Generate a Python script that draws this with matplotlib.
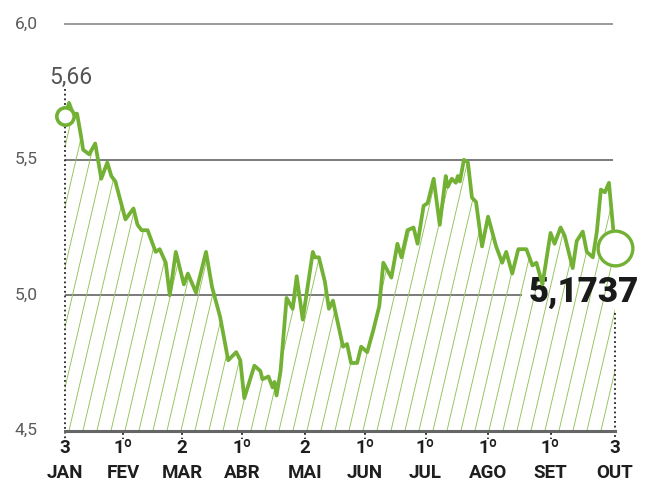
import matplotlib
matplotlib.use('Agg')
import matplotlib.pyplot as plt
import matplotlib.dates as mdates
from matplotlib.collections import LineCollection
from matplotlib import font_manager
import numpy as np
import pandas as pd

# ---------------- data ----------------
start_date = '2022-01-03'
day_offsets = [0, 2, 4, 6, 8, 9, 12, 15, 18, 21, 23, 25, 30, 34, 36, 38, 41, 45, 47, 50,
               52, 55, 59, 61, 65, 70, 73, 77, 79, 81, 85, 87, 89, 94, 97, 98, 101, 103, 104, 105,
               107, 110, 113, 115, 118, 123, 124, 126, 129, 131, 133, 138, 140, 142, 145, 147, 150, 153, 156, 158,
               162, 165, 167, 170, 173, 175, 178, 180, 183, 186, 189, 190, 192, 194, 195, 196, 198, 200, 202, 204,
               207, 210, 214, 217, 219, 222, 225, 229, 232, 234, 237, 241, 243, 246, 248, 252, 254, 257, 259, 262,
               264, 266, 268, 270, 273]
values = [5.66, 5.71, 5.67, 5.67, 5.585, 5.537, 5.52, 5.56, 5.43, 5.49, 5.44, 5.42, 5.28, 5.32, 5.26, 5.24, 5.24, 5.16, 5.17, 5.12,
          5.00, 5.16, 5.04, 5.08, 5.01, 5.16, 5.03, 4.92, 4.84, 4.76, 4.79, 4.76, 4.62, 4.74, 4.72, 4.69, 4.70, 4.66, 4.68, 4.63,
          4.72, 4.99, 4.95, 5.07, 4.91, 5.16, 5.14, 5.14, 5.05, 4.95, 4.98, 4.81, 4.82, 4.75, 4.75, 4.81, 4.79, 4.87, 4.96, 5.12,
          5.065, 5.19, 5.14, 5.24, 5.25, 5.19, 5.33, 5.34, 5.43, 5.26, 5.44, 5.40, 5.43, 5.415, 5.44, 5.42, 5.50, 5.49, 5.36, 5.345,
          5.18, 5.29, 5.18, 5.12, 5.16, 5.08, 5.17, 5.17, 5.11, 5.12, 5.04, 5.23, 5.19, 5.25, 5.22, 5.10, 5.20, 5.235, 5.16, 5.14,
          5.235, 5.39, 5.38, 5.415, 5.1737]

tick_dates = ['2022-01-03', '2022-02-01', '2022-03-02', '2022-04-01', '2022-05-02',
              '2022-06-01', '2022-07-01', '2022-08-01', '2022-09-01', '2022-10-03']
tick_days = ['3', '1º', '2', '1º', '2', '1º', '1º', '1º', '1º', '3']
tick_months = ['JAN', 'FEV', 'MAR', 'ABR', 'MAI', 'JUN', 'JUL', 'AGO', 'SET', 'OUT']
y_ticks = [4.5, 5.0, 5.5, 6.0]
y_labels = ['4,5', '5,0', '5,5', '6,0']
first_label = '5,66'
last_label = '5,1737'

# ---------------- fonts ----------------
available = {f.name for f in font_manager.fontManager.ttflist}
def pick(*names):
    for n in names:
        if n in available:
            return n
    return 'DejaVu Sans'
light_font = pick('Roboto', 'Liberation Sans', 'DejaVu Sans')
bold_font = pick('Liberation Sans Narrow', 'Roboto', 'Liberation Sans')

GREEN = '#72b134'
HATCH = '#93c25a'

dates = pd.Timestamp(start_date) + pd.to_timedelta(day_offsets, unit='D')
xd = mdates.date2num(dates.to_pydatetime())
tick_x = mdates.date2num(pd.to_datetime(tick_dates).to_pydatetime())

fig = plt.figure(figsize=(6.65, 4.91), dpi=100)
W, H = 665, 491
ax = fig.add_axes([65 / W, 60.3 / H, 550 / W, 406.4 / H])
ax.set_xlim(tick_x[0], tick_x[-1])
ax.set_ylim(4.5, 6.0)
for s in ax.spines.values():
    s.set_visible(False)
ax.set_xticks([])
ax.set_yticks([])

# grid lines
ax.axhline(6.0, xmin=0, xmax=0.995, color='#9a9a9a', lw=1.4, zorder=1, clip_on=False)
ax.axhline(5.5, xmin=0, xmax=0.995, color='#7a7a7a', lw=1.4, zorder=1)
ax.axhline(5.0, xmin=0, xmax=0.83, color='#7a7a7a', lw=1.4, zorder=1)
ax.axhline(4.5, xmin=0, xmax=1.0, color='#666666', lw=2.2, zorder=4, clip_on=False)

# y labels
ytrans = ax.get_yaxis_transform()
for v, lab in zip(y_ticks, y_labels):
    ax.text(-0.071, v, lab, transform=ytrans, ha='center', va='center',
            fontsize=12.5, color='#5a5a5a', family=light_font)

# hatched area under the curve
poly = ax.fill_between(xd, values, 4.5, facecolor='none', edgecolor='none', zorder=2)
clip_path = poly.get_paths()[0]
bw = ax.get_window_extent()
slope_dx = (bw.height / 4.3) / bw.width   # steep diagonal
spacing = 14.0 / bw.width
starts = np.arange(-slope_dx - 0.05, 1.05, spacing)
segs = [[(s, 0), (s + slope_dx, 1)] for s in starts]
lc = LineCollection(segs, colors=HATCH, linewidths=0.65, transform=ax.transAxes, zorder=2)
lc.set_clip_path(clip_path, ax.transData)
ax.add_collection(lc)

# main line
ax.plot(xd, values, color=GREEN, lw=2.7, zorder=5, solid_joinstyle='round')

# dotted verticals and tick marks
xtrans = ax.get_xaxis_transform()
ax.plot([tick_x[0], tick_x[0]], [0.84, -0.02], transform=xtrans, color='#222222',
        lw=1.3, ls=(0, (1, 1.6)), clip_on=False, zorder=3)
ax.plot([tick_x[-1], tick_x[-1]], [0.29, -0.02], transform=xtrans, color='#222222',
        lw=1.3, ls=(0, (1, 1.6)), clip_on=False, zorder=3)
for tx in tick_x[1:-1]:
    ax.plot([tx, tx], [-0.006, -0.02], transform=xtrans, color='#222222',
            lw=1.3, ls=(0, (1, 1.6)), clip_on=False, zorder=3)

# x labels
for tx, d, m in zip(tick_x, tick_days, tick_months):
    ax.text(tx, -0.043, d, transform=xtrans, ha='center', va='center', fontsize=13.5,
            fontweight='bold', color='#1e1e1e', family=bold_font)
    ax.text(tx, -0.104, m, transform=xtrans, ha='center', va='center', fontsize=13.5,
            fontweight='bold', color='#1e1e1e', family=bold_font)

# circles
ax.plot([xd[0]], [values[0]], marker='o', ms=12.5, mfc='white', mec=GREEN, mew=2.6,
        zorder=6, clip_on=False)
ax.plot([xd[-1]], [values[-1]], marker='o', ms=25, mfc='white', mec=GREEN, mew=2.4,
        zorder=6, clip_on=False)

# annotations
ax.annotate(first_label, xy=(xd[0], values[0]), xytext=(4, 28), textcoords='offset points',
            ha='center', va='center', fontsize=16.5, color='#555555', family=light_font)
ax.annotate(last_label, xy=(xd[-1], values[-1]), xytext=(17, -32), textcoords='offset points',
            ha='right', va='center', fontsize=25, fontweight='heavy', color='#1a1a1a',
            family=bold_font)

fig.savefig('out.png', dpi=100)
